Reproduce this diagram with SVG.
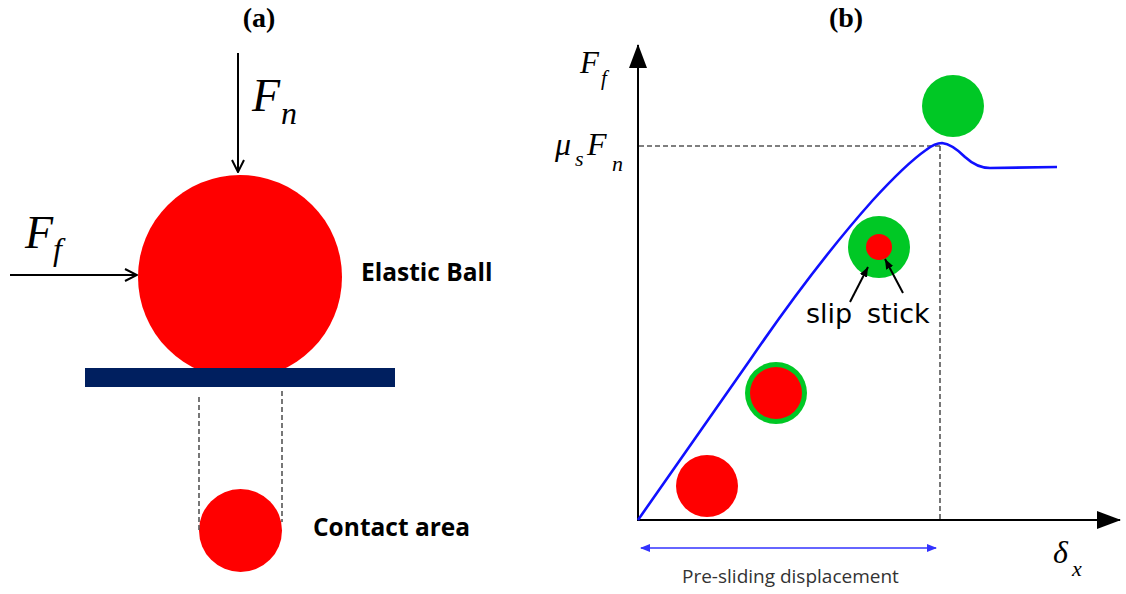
<svg xmlns="http://www.w3.org/2000/svg" width="1126" height="594" viewBox="0 0 1126 594">
<defs>
<style>
.title{font-family:"Liberation Serif",serif;font-weight:bold;font-size:28px;fill:#000;text-anchor:middle}
.math{font-family:"Liberation Serif",serif;font-style:italic;fill:#000}
.lbl{font-family:"Open Sans",sans-serif;font-weight:bold;font-size:24.5px;fill:#000}
.ss{font-family:"DejaVu Sans",sans-serif;font-size:27px;fill:#000}
.pre{font-family:"Open Sans",sans-serif;font-size:19px;fill:#333}
.dash{stroke:#555;stroke-width:1.6;stroke-dasharray:5,3;fill:none}
.red{fill:#ff0000}
.green{fill:#00c825}
</style>
<marker id="chev" viewBox="0 0 14 14" refX="13" refY="7" markerWidth="14" markerHeight="14" markerUnits="userSpaceOnUse" orient="auto">
<path d="M1,1 L13,7 L1,13" fill="none" stroke="#000" stroke-width="2"/>
</marker>
<marker id="tri" viewBox="0 0 10 10" refX="10" refY="5" markerWidth="10" markerHeight="10" markerUnits="userSpaceOnUse" orient="auto">
<path d="M0,1 L10,5 L0,9 Z" fill="#000"/>
</marker>
<marker id="axis" viewBox="0 0 24 18" refX="23" refY="9" markerWidth="24" markerHeight="18" markerUnits="userSpaceOnUse" orient="auto">
<path d="M0,0 L24,9 L0,18 Z" fill="#000"/>
</marker>
<marker id="blue" viewBox="0 0 10 8" refX="9" refY="4" markerWidth="10" markerHeight="8" markerUnits="userSpaceOnUse" orient="auto-start-reverse">
<path d="M0,0 L10,4 L0,8 Z" fill="#3333ff"/>
</marker>
</defs>
<rect width="1126" height="594" fill="#fff"/>

<g id="panel-a">
<text class="title" x="259" y="27">(a)</text>
<g id="ball">
<circle class="red" cx="240" cy="277" r="102"/>
</g>
<g id="plate"><rect x="85" y="368" width="310" height="19" fill="#001f5f"/></g>
<g id="contact">
<circle class="red" cx="240.5" cy="530.5" r="41.5"/>
</g>
<g id="labels-a">
<text class="math" font-size="46" x="252" y="111">F</text>
<text class="math" font-size="32" x="281" y="124">n</text>
<text class="math" font-size="46" x="25" y="248">F</text>
<text class="math" font-size="32" x="53" y="260">f</text>
<text class="lbl" x="361" y="281">Elastic Ball</text>
<text class="lbl" x="313" y="536">Contact area</text>
</g>
</g>

<g id="panel-b">
<text class="title" x="846" y="27">(b)</text>
<g id="circles">
<circle class="red" cx="707" cy="486" r="31"/>
<circle class="green" cx="776" cy="393" r="31"/>
<circle class="red" cx="776" cy="393" r="26"/>
<circle class="green" cx="879" cy="247" r="31"/>
<circle class="red" cx="879" cy="247" r="13"/>
<circle class="green" cx="953" cy="106" r="31"/>
</g>
<g id="labels-b">
<text class="math" font-size="31" x="580" y="73">F</text>
<text class="math" font-size="21" x="601" y="85">f</text>
<text class="math" font-size="32" x="555" y="155">μ</text>
<text class="math" font-size="22" x="575" y="166">s</text>
<text class="math" font-size="32" x="587" y="155">F</text>
<text class="math" font-size="22" x="612" y="171">n</text>
<text class="math" font-size="32" x="1053" y="563">δ</text>
<text class="math" font-size="22" x="1072" y="576">x</text>
<text class="ss" x="806" y="323">slip</text>
<text class="ss" x="867" y="323">stick</text>
<text class="pre" x="682" y="583">Pre-sliding displacement</text>
</g>
</g>

<g id="connectors">
<line x1="238" y1="53" x2="238" y2="172" stroke="#000" stroke-width="2" marker-end="url(#chev)"/>
<line x1="10" y1="275" x2="137" y2="275" stroke="#000" stroke-width="2" marker-end="url(#chev)"/>
<line class="dash" x1="199" y1="397" x2="199" y2="530"/>
<line class="dash" x1="282" y1="391" x2="282" y2="522"/>
<line x1="638" y1="521" x2="638" y2="45" stroke="#000" stroke-width="2" marker-end="url(#axis)"/>
<line x1="637" y1="520" x2="1120" y2="520" stroke="#000" stroke-width="2" marker-end="url(#axis)"/>
<line class="dash" x1="639" y1="146" x2="940" y2="146"/>
<line class="dash" x1="940" y1="146" x2="940" y2="519"/>
<path d="M638,520 L750,360 Q815,265 873,200 Q906,164 926,150 Q935,143 942,143 Q952,144 965,157 Q977,168 990,168 L1057,167" fill="none" stroke="#1010ff" stroke-width="2.6" stroke-linejoin="round"/>
<line x1="850" y1="302" x2="868" y2="267" stroke="#000" stroke-width="2" marker-end="url(#tri)"/>
<line x1="903" y1="293" x2="885" y2="259" stroke="#000" stroke-width="2" marker-end="url(#tri)"/>
<line x1="641" y1="548" x2="936" y2="548" stroke="#3333ff" stroke-width="1.5" marker-start="url(#blue)" marker-end="url(#blue)"/>
</g>
</svg>
